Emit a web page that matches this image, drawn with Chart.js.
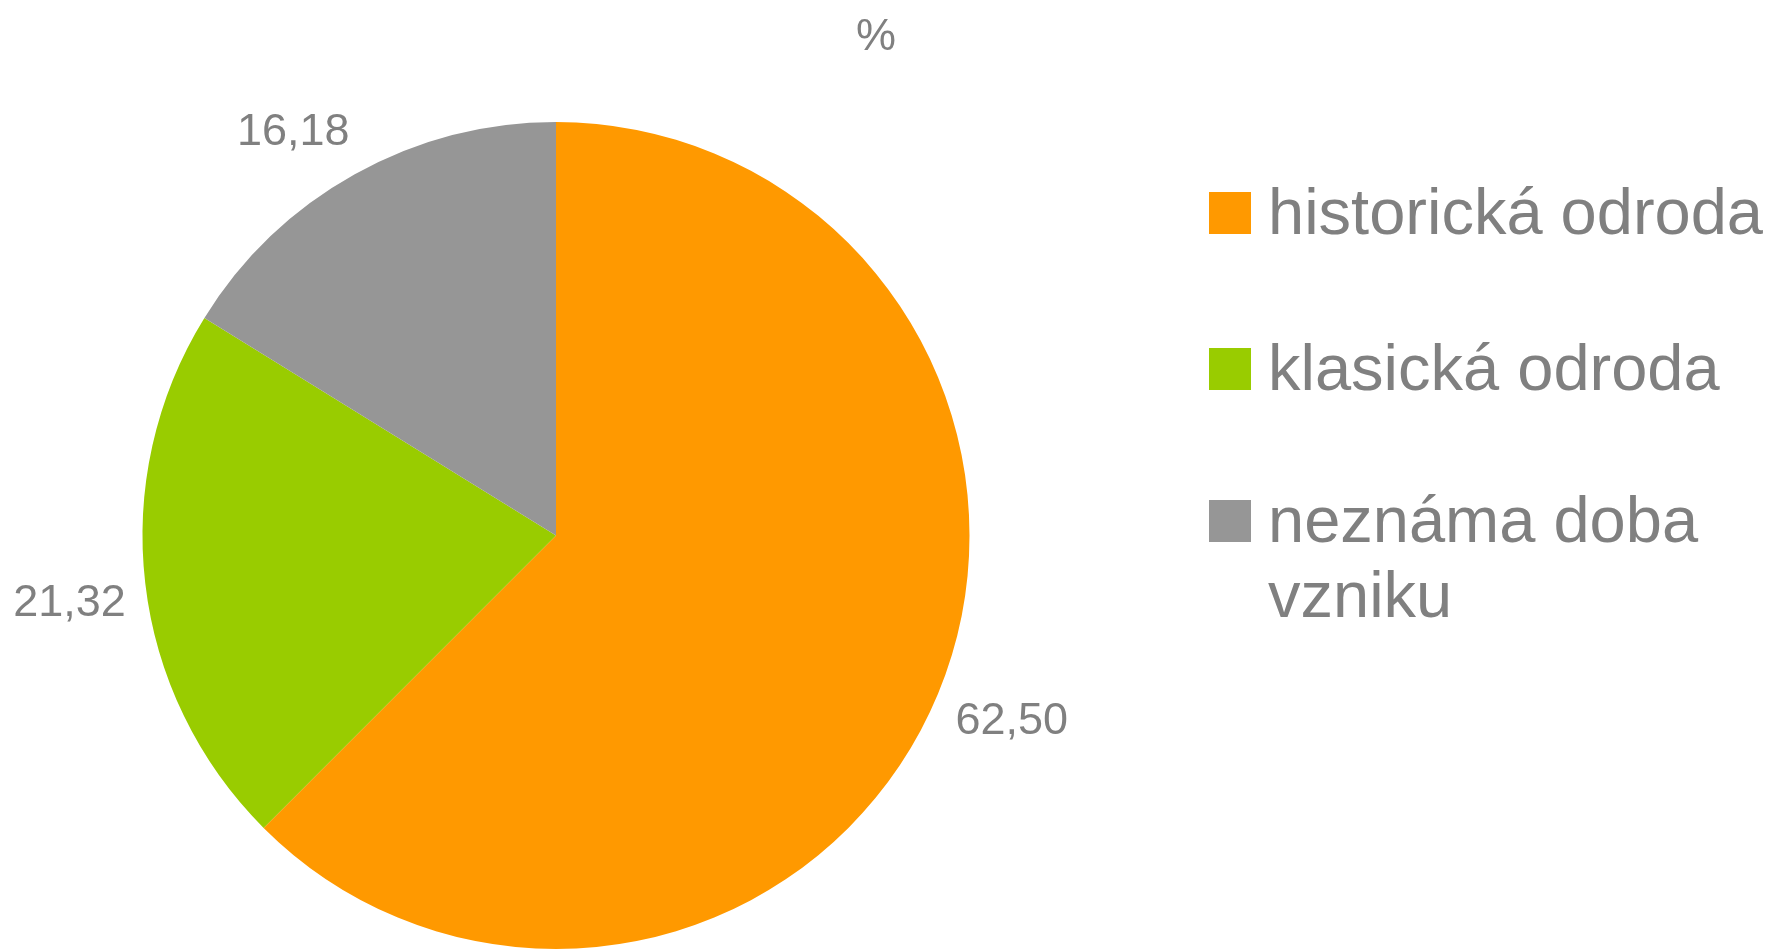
<!DOCTYPE html>
<html>
<head>
<meta charset="utf-8">
<script src="https://cdn.jsdelivr.net/npm/chart.js@4"></script>
<style>
  html, body { margin: 0; padding: 0; background: #fff; overflow: hidden; }
  #wrap { width: 1776px; height: 949px; }
</style>
</head>
<body>
<div id="wrap"><canvas id="chart_1" width="1776" height="949"></canvas></div>
<script>
// datos del grafico
var kategorie = ["historická odroda", "klasická odroda", ["neznáma doba", "vzniku"]];
var hodnoty = [62.50, 21.32, 16.18];
var barvy = ["#FF9900", "#99CC00", "#969696"];
var nadpis = "%";

var sivyText = "#808080";
var pismo = "'Liberation Sans', Arial, sans-serif";

// etiquetas con los valores fuera del pastel (estilo Excel "extremo externo")
var popisky = {
  id: 'popisky',
  afterDatasetsDraw: function(chart) {
    var ctx = chart.ctx;
    var meta = chart.getDatasetMeta(0);
    ctx.save();
    ctx.fillStyle = sivyText;
    ctx.font = "45px " + pismo;
    ctx.textAlign = "center";
    ctx.textBaseline = "middle";
    meta.data.forEach(function(arc, i) {
      var txt = hodnoty[i].toFixed(2).replace(".", ",");
      var w = ctx.measureText(txt).width;
      var uhel = (arc.startAngle + arc.endAngle) / 2;
      var r = arc.outerRadius + 28;
      var dx = Math.cos(uhel), dy = Math.sin(uhel);
      var x = arc.x + dx * r + Math.sign(dx) * w / 2 * 0.85;
      var y = arc.y + dy * r + Math.sign(dy) * 17;
      ctx.fillText(txt, x, y);
    });
    // titulo
    ctx.fillText(nadpis, 876, 38);
    ctx.restore();
  }
};

// leyenda a la derecha
var legenda = {
  id: 'legenda',
  afterDraw: function(chart) {
    var ctx = chart.ctx;
    var radky = [234, 390, 542];
    ctx.save();
    ctx.font = "65px " + pismo;
    ctx.textBaseline = "alphabetic";
    ctx.textAlign = "left";
    kategorie.forEach(function(k, i) {
      ctx.fillStyle = barvy[i];
      ctx.fillRect(1209, radky[i] - 42, 42, 42);
      ctx.fillStyle = sivyText;
      var lines = Array.isArray(k) ? k : [k];
      lines.forEach(function(t, j) {
        ctx.fillText(t, 1268, radky[i] + j * 75);
      });
    });
    ctx.restore();
  }
};

var ctx = document.getElementById('chart_1').getContext('2d');
var chart = new Chart(ctx, {
  type: 'pie',
  data: {
    labels: kategorie.map(function(k) { return Array.isArray(k) ? k.join(" ") : k; }),
    datasets: [{
      data: hodnoty,
      backgroundColor: barvy,
      borderWidth: 0
    }]
  },
  options: {
    responsive: false,
    animation: false,
    layout: { padding: { left: 141, top: 122, right: 805, bottom: -3 } },
    plugins: {
      legend: { display: false },
      tooltip: { enabled: false },
      title: { display: false }
    }
  },
  plugins: [popisky, legenda]
});
</script>
</body>
</html>
